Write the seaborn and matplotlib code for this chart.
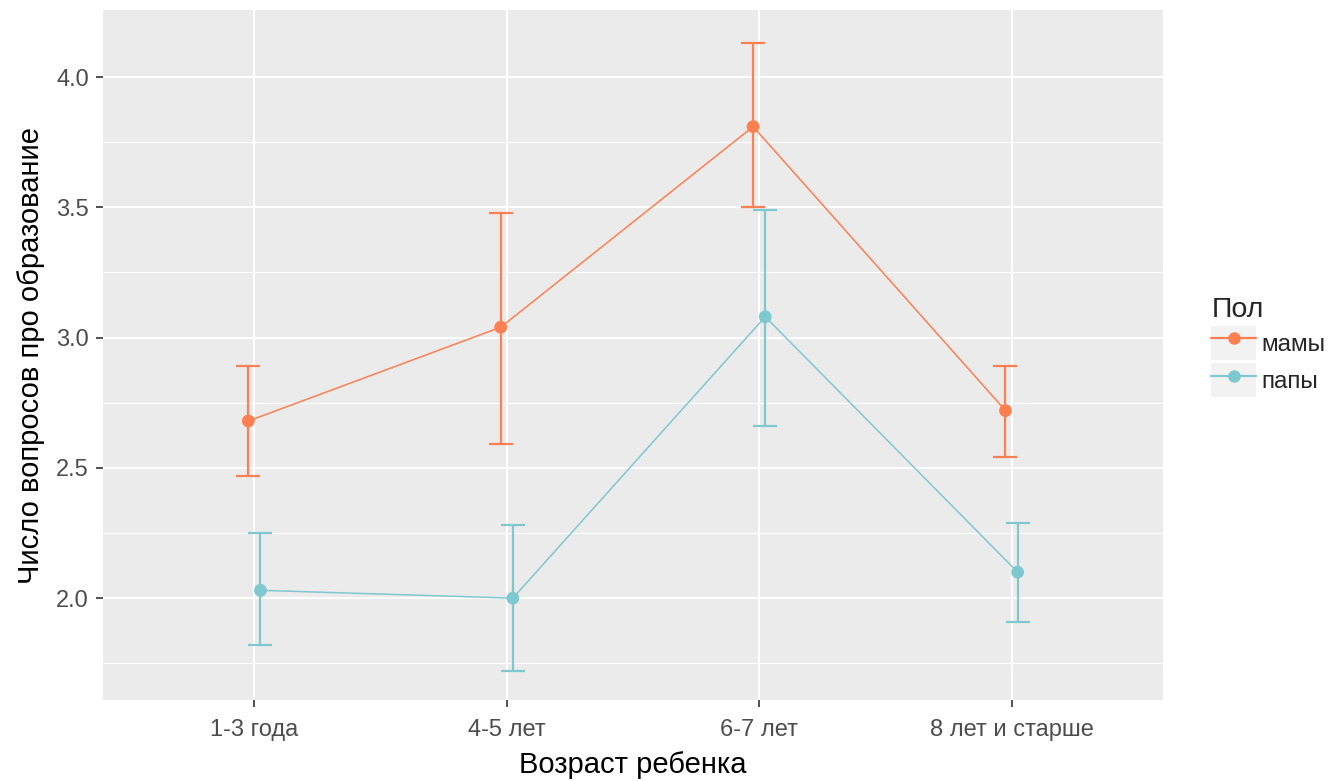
import numpy as np
import pandas as pd
import matplotlib
matplotlib.use("Agg")
import matplotlib.pyplot as plt
import seaborn as sns
from matplotlib.lines import Line2D
from matplotlib.patches import Patch
from matplotlib.legend_handler import HandlerTuple

# данные
vozrast = ["1-3 года", "4-5 лет", "6-7 лет", "8 лет и старше"]
pol = ["мамы", "папы"]
mamy_mean = [2.68, 3.04, 3.81, 2.72]
mamy_lo = [2.47, 2.59, 3.50, 2.54]
mamy_hi = [2.89, 3.48, 4.13, 2.89]
papy_mean = [2.03, 2.00, 3.08, 2.10]
papy_lo = [1.82, 1.72, 2.66, 1.91]
papy_hi = [2.25, 2.28, 3.49, 2.29]
y_ticks = [2.0, 2.5, 3.0, 3.5, 4.0]

colors = {"мамы": "#FF7F50", "папы": "#7FC8CF"}
dodge = {"мамы": -0.024, "папы": 0.024}

df = pd.DataFrame({
    "age": vozrast * 2,
    "sex": ["мамы"] * 4 + ["папы"] * 4,
    "mean": mamy_mean + papy_mean,
    "lo": mamy_lo + papy_lo,
    "hi": mamy_hi + papy_hi,
})
df["pos"] = [vozrast.index(a) for a in df["age"]] + df["sex"].map(dodge)

sns.set_theme(style="darkgrid")
plt.rcParams["font.family"] = ["Liberation Sans", "DejaVu Sans"]

fig = plt.figure(figsize=(13.34, 7.81), dpi=100)
ax = fig.add_axes([0.0772, 0.1037, 0.7946, 0.8833])
ax.set_facecolor("#EBEBEB")

# ошибки
for s in pol:
    d = df[df["sex"] == s]
    ax.errorbar(d["pos"], d["mean"], yerr=[d["mean"] - d["lo"], d["hi"] - d["mean"]],
                fmt="none", ecolor=colors[s], elinewidth=1.6, capsize=8.3, capthick=1.6, zorder=3)

sns.lineplot(data=df, x="pos", y="mean", hue="sex", palette=colors, ax=ax,
             linewidth=1.1, legend=False, zorder=4, sort=True)
sns.scatterplot(data=df, x="pos", y="mean", hue="sex", palette=colors, ax=ax,
                s=85, edgecolor="none", legend=False, zorder=5)

ax.set_xlim(-0.6, 3.6)
ax.set_ylim(1.609, 4.257)
ax.set_xticks(range(len(vozrast)))
ax.set_xticklabels(vozrast)
ax.set_yticks(y_ticks)
ax.set_yticklabels([f"{v:.1f}" for v in y_ticks])
ax.set_yticks([1.75, 2.25, 2.75, 3.25, 3.75], minor=True)
ax.grid(which="major", color="white", linewidth=1.5)
ax.grid(which="minor", axis="y", color="white", linewidth=0.8)
ax.tick_params(axis="both", which="major", colors="#333333", labelcolor="#4D4D4D",
               labelsize=17, length=5, width=1.2, left=True, bottom=True)
ax.tick_params(axis="x", pad=9)
ax.tick_params(axis="y", pad=5)
ax.tick_params(which="minor", length=0)
for sp in ax.spines.values():
    sp.set_visible(False)

ax.set_xlabel("Возраст ребенка", fontsize=21, color="black", labelpad=7)
ax.set_ylabel("Число вопросов про образование", fontsize=21, color="black", labelpad=8)

handles = []
for s in pol:
    bg = Patch(facecolor="#F2F2F2", edgecolor="none")
    ln = Line2D([], [], color=colors[s], linewidth=1.6, marker="o", markersize=9,
                markeredgewidth=0)
    handles.append((bg, ln))
leg = fig.legend(handles, pol, handler_map={tuple: HandlerTuple(ndivide=1, pad=0)},
                 title="Пол", loc="upper left", bbox_to_anchor=(0.908, 0.62),
                 frameon=False, fontsize=17.5, title_fontsize=20.5,
                 handlelength=1.85, handleheight=1.8, handletextpad=0.2,
                 labelspacing=0.12, borderaxespad=0, borderpad=0)
leg._legend_box.align = "left"

fig.savefig("out.png", dpi=100, facecolor="white")
